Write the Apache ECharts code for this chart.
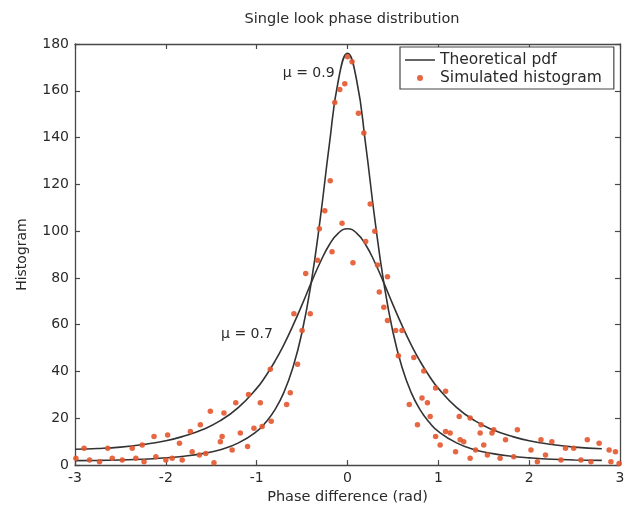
<!DOCTYPE html>
<html>
<head>
<meta charset="utf-8">
<script src="https://cdn.jsdelivr.net/npm/echarts@6/dist/echarts.min.js"></script>
<style>
html,body{margin:0;padding:0;background:#fff;}
#c{width:629px;height:510px;}
</style>
</head>
<body>
<div id="c"></div>
<script>
// Theoretical pdf curves
var curvePhase = [-3,-2.75,-2.5,-2.25,-2,-1.8,-1.6,-1.4,-1.2,-1,-0.9,-0.8,-0.7,-0.6,-0.5,-0.4,-0.3,-0.2,-0.1,0,0.1,0.2,0.3,0.4,0.5,0.6,0.7,0.8,0.9,1,1.2,1.4,1.6,1.8,2,2.25,2.5,2.8];
var pdfMu09 = [1.9,2.0,2.2,2.5,3.1,3.8,4.9,6.6,9.5,14.4,18.3,23.6,31.1,41.8,56.9,77.9,105.4,137.0,164.6,176.0,164.6,137.0,105.4,77.9,56.9,41.8,31.1,23.6,18.3,14.4,9.5,6.6,4.9,3.8,3.1,2.5,2.2,2.0];
var pdfMu07 = [6.8,7.1,7.7,8.8,10.4,12.4,15.1,19.0,24.7,32.8,38.1,44.3,51.5,59.7,68.6,77.9,86.7,94.2,99.2,101.0,99.2,94.2,86.7,77.9,68.6,59.7,51.5,44.3,38.1,32.8,24.7,19.0,15.1,12.4,10.4,8.8,7.7,7.0];

// Simulated histogram points
var simPhase = [-2.99,-2.90,-2.84,-2.73,-2.64,-2.59,-2.48,-2.37,-2.33,-2.26,-2.24,-2.13,-2.11,-2.00,-1.98,-1.93,-1.85,-1.82,-1.73,-1.71,-1.63,-1.62,-1.56,-1.51,-1.47,-1.40,-1.38,-1.36,-1.27,-1.23,-1.18,-1.10,-1.09,-1.03,-0.96,-0.94,-0.85,-0.84,-0.67,-0.63,-0.59,-0.55,-0.50,-0.46,-0.41,-0.33,-0.31,-0.25,-0.19,-0.17,-0.14,-0.085,-0.06,-0.03,0.00,0.05,0.06,0.12,0.18,0.20,0.25,0.30,0.33,0.35,0.40,0.44,0.44,0.53,0.56,0.60,0.68,0.73,0.77,0.82,0.84,0.88,0.91,0.97,0.97,1.02,1.08,1.08,1.13,1.19,1.23,1.24,1.28,1.35,1.35,1.41,1.46,1.47,1.50,1.54,1.59,1.61,1.68,1.74,1.83,1.87,2.02,2.09,2.13,2.18,2.25,2.35,2.40,2.49,2.57,2.64,2.68,2.77,2.88,2.90,2.95,2.99];
var simValue = [2.9,7.2,2.2,1.4,7.2,2.9,2.2,7.2,2.9,8.6,1.4,12.2,3.6,2.2,12.9,2.9,9.3,2.2,14.4,5.7,4.3,17.2,5.0,23.0,1.0,10.0,12.2,22.3,6.5,26.6,13.7,7.9,30.2,15.8,26.6,16.5,41.0,18.7,25.9,30.9,64.7,43.1,57.5,81.9,64.7,87.6,101,108.7,121.5,91.2,155,160.5,103.4,163,174.6,172.4,86.5,150.4,142,95.6,111.6,100,85.5,74,67.5,80.5,61.8,57.5,46.7,57.5,25.9,46,17.2,28.7,40.2,26.6,20.8,33,12.2,8.6,31.6,14.4,13.7,5.7,20.8,10.8,10,20.1,2.9,6.5,13.7,17.2,8.6,4.3,13.7,15.1,2.9,10.8,3.6,15.1,6.5,1.4,10.8,4.3,10,2.2,7.2,7.2,2.2,10.8,1.4,9.3,6.5,1.4,5.7,0.7];

var xTicks = [-3,-2,-1,0,1,2,3];
var yTicks = [0,20,40,60,80,100,120,140,160,180];

function pairs(xs, ys){ var out=[]; for(var i=0;i<xs.length;i++) out.push([xs[i], ys[i]]); return out; }

var FONT = 'DejaVu Sans, sans-serif';
var FS = 14;
var frame = '#474747';
var txt = '#2a2a2a';
var curveColor = '#333333';

var chart = echarts.init(document.getElementById('c'), null, {renderer:'canvas'});
var axisCommon = {
  axisLine:{show:true, onZero:false, lineStyle:{color:frame, width:1.3}},
  axisTick:{show:true, inside:true, length:5, lineStyle:{color:frame, width:1.2}},
  splitLine:{show:false}
};
var lineIcon = 'path://M0,0H30V0.01H0Z M0,2.3H30V3.7H0Z M0,5.99H30V6H0Z';
chart.setOption({
  animation:false,
  backgroundColor:'#fff',
  title:{text:'Single look phase distribution', left:347, textAlign:'center', top:7,
    textStyle:{fontFamily:FONT, fontSize:14.5, fontWeight:'normal', color:txt}},
  grid:{left:75, right:9, top:44, bottom:44, containLabel:false},
  legend:{
    orient:'vertical', left:400, top:47,
    backgroundColor:'#fff',
    borderColor:frame, borderWidth:1.2, borderRadius:0,
    padding:[5,12,3,5], itemGap:2,
    itemWidth:30, itemHeight:6,
    textStyle:{fontFamily:FONT, fontSize:15.5, color:txt},
    data:[{name:'Theoretical pdf', icon:lineIcon, itemStyle:{color:curveColor}},
          {name:'Simulated histogram', icon:'circle'}]
  },
  xAxis:[
    Object.assign({type:'value', min:-3, max:3, interval:1, position:'bottom',
      name:'Phase difference (rad)', nameLocation:'middle', nameGap:21,
      nameTextStyle:{fontFamily:FONT, fontSize:14.5, color:txt},
      axisLabel:{fontFamily:FONT, fontSize:FS, color:txt, margin:6,
        formatter:function(v){ return xTicks.indexOf(v)>=0 ? String(v) : ''; }}}, axisCommon),
    Object.assign({type:'value', min:-3, max:3, interval:1, position:'top',
      axisLabel:{show:false}}, axisCommon)
  ],
  yAxis:[
    Object.assign({type:'value', min:0, max:180, interval:20, position:'left',
      name:'Histogram', nameLocation:'middle', nameGap:46, nameRotate:90,
      nameTextStyle:{fontFamily:FONT, fontSize:14, color:txt},
      axisLabel:{fontFamily:FONT, fontSize:FS, color:txt, margin:6,
        formatter:function(v){ return yTicks.indexOf(v)>=0 ? String(v) : ''; }}}, axisCommon),
    Object.assign({type:'value', min:0, max:180, interval:20, position:'right',
      axisLabel:{show:false}}, axisCommon)
  ],
  series:[
    {name:'Theoretical pdf', type:'line', data:pairs(curvePhase, pdfMu09),
      symbol:'none', smooth:0.5,
      lineStyle:{color:curveColor, width:1.6}, itemStyle:{color:curveColor}, z:3,
      markPoint:{symbol:'circle', symbolSize:0, silent:true,
        label:{show:true, position:'left', distance:2, fontFamily:FONT, fontSize:14, color:txt, formatter:'{b}'},
        data:[{name:'\u03bc = 0.9', coord:[-0.12, 167.5]}]}},
    {name:'Theoretical pdf', type:'line', data:pairs(curvePhase, pdfMu07),
      symbol:'none', smooth:0.5,
      lineStyle:{color:curveColor, width:1.6}, itemStyle:{color:curveColor}, z:3,
      markPoint:{symbol:'circle', symbolSize:0, silent:true,
        label:{show:true, position:'left', distance:2, fontFamily:FONT, fontSize:14, color:txt, formatter:'{b}'},
        data:[{name:'\u03bc = 0.7', coord:[-0.8, 56]}]}},
    {name:'Simulated histogram', type:'scatter', data:pairs(simPhase, simValue),
      symbol:'circle', symbolSize:5.5, itemStyle:{color:'#e4572e', opacity:0.9}, z:4}
  ]
});
</script>
</body>
</html>
